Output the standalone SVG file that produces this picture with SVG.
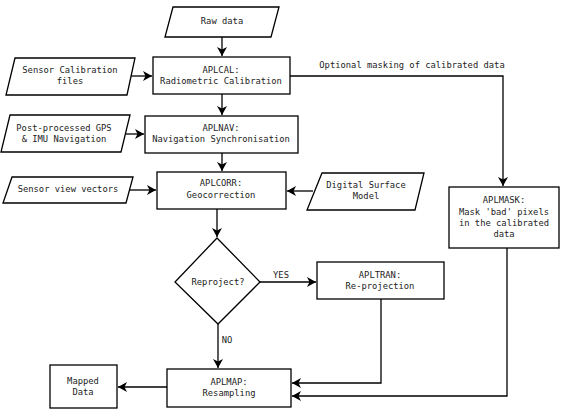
<svg xmlns="http://www.w3.org/2000/svg" width="562" height="411" viewBox="0 0 562 411">
<style>
.s{fill:#fff;stroke:#000;stroke-width:1.3}
.t{font-family:"DejaVu Sans Mono","Liberation Mono",monospace;font-size:8.8px;fill:#222;text-anchor:middle}
.c{fill:none;stroke:#000;stroke-width:1.3}
</style>
<defs>
<marker id="a" markerWidth="10" markerHeight="10" refX="9" refY="5" orient="auto" markerUnits="userSpaceOnUse">
<path d="M0,0 L9,5 L0,10 L2.5,5 Z" fill="#000"/>
</marker>
</defs>
<rect width="562" height="411" fill="#fff"/>
<g id="connectors">
<line class="c" x1="222" y1="37" x2="222" y2="56" marker-end="url(#a)"/>
<line class="c" x1="131" y1="76" x2="152" y2="76" marker-end="url(#a)"/>
<line class="c" x1="222" y1="94" x2="222" y2="115" marker-end="url(#a)"/>
<line class="c" x1="126" y1="134" x2="144" y2="134" marker-end="url(#a)"/>
<line class="c" x1="222" y1="153" x2="222" y2="171" marker-end="url(#a)"/>
<line class="c" x1="129" y1="190" x2="156" y2="190" marker-end="url(#a)"/>
<line class="c" x1="313" y1="191" x2="287" y2="191" marker-end="url(#a)"/>
<polyline class="c" points="290,76 503,76 503,186" marker-end="url(#a)"/>
<line class="c" x1="217" y1="209" x2="217" y2="237" marker-end="url(#a)"/>
<line class="c" x1="260" y1="282" x2="316" y2="282" marker-end="url(#a)"/>
<line class="c" x1="218" y1="324" x2="218" y2="368" marker-end="url(#a)"/>
<polyline class="c" points="381,299 381,383 292,383" marker-end="url(#a)"/>
<polyline class="c" points="507,248 507,396 292,396" marker-end="url(#a)"/>
<line class="c" x1="167" y1="387" x2="118" y2="387" marker-end="url(#a)"/>
<text class="t" x="412" y="68">Optional masking of calibrated data</text>
<text class="t" x="281" y="278">YES</text>
<text class="t" x="227" y="343">NO</text>
</g>
<g id="raw">
<polygon class="s" points="173,7 279,7 271,37 165,37"/>
<text class="t" x="222" y="24">Raw data</text>
</g>
<g id="aplcal">
<rect class="s" x="153" y="57" width="137" height="37"/>
<text class="t" x="221" y="73">APLCAL:</text>
<text class="t" x="221" y="84">Radiometric Calibration</text>
</g>
<g id="senscal">
<polygon class="s" points="15,58 135,58 127,95 6,95"/>
<text class="t" x="70" y="73">Sensor Calibration</text>
<text class="t" x="70" y="84">files</text>
</g>
<g id="aplnav">
<rect class="s" x="145" y="116" width="153" height="37"/>
<text class="t" x="221" y="131">APLNAV:</text>
<text class="t" x="221" y="142">Navigation Synchronisation</text>
</g>
<g id="gps">
<polygon class="s" points="10,115 130,115 121,152 1,152"/>
<text class="t" x="64" y="131">Post-processed GPS</text>
<text class="t" x="64" y="142">&amp; IMU Navigation</text>
</g>
<g id="aplcorr">
<rect class="s" x="157" y="172" width="129" height="37"/>
<text class="t" x="221" y="186">APLCORR:</text>
<text class="t" x="221" y="198">Geocorrection</text>
</g>
<g id="svv">
<polygon class="s" points="12,177 133,177 126,203 3,203"/>
<text class="t" x="68" y="192">Sensor view vectors</text>
</g>
<g id="dsm">
<polygon class="s" points="322,173 424,173 415,210 307,210"/>
<text class="t" x="366" y="188">Digital Surface</text>
<text class="t" x="366" y="199">Model</text>
</g>
<g id="aplmask">
<rect class="s" x="449" y="187" width="110" height="61"/>
<text class="t" x="504" y="203">APLMASK:</text>
<text class="t" x="504" y="215">Mask 'bad' pixels</text>
<text class="t" x="504" y="226">in the calibrated</text>
<text class="t" x="504" y="237">data</text>
</g>
<g id="reproject">
<polygon class="s" points="217,238 260,282 218,324 175,282"/>
<text class="t" x="218" y="285">Reproject?</text>
</g>
<g id="apltran">
<rect class="s" x="317" y="262" width="127" height="37"/>
<text class="t" x="380" y="278">APLTRAN:</text>
<text class="t" x="380" y="289">Re-projection</text>
</g>
<g id="aplmap">
<rect class="s" x="167" y="369" width="124" height="38"/>
<text class="t" x="229" y="385">APLMAP:</text>
<text class="t" x="229" y="396">Resampling</text>
</g>
<g id="mapped">
<rect class="s" x="50" y="365" width="67" height="43"/>
<text class="t" x="83" y="384">Mapped</text>
<text class="t" x="83" y="395">Data</text>
</g>
</svg>
